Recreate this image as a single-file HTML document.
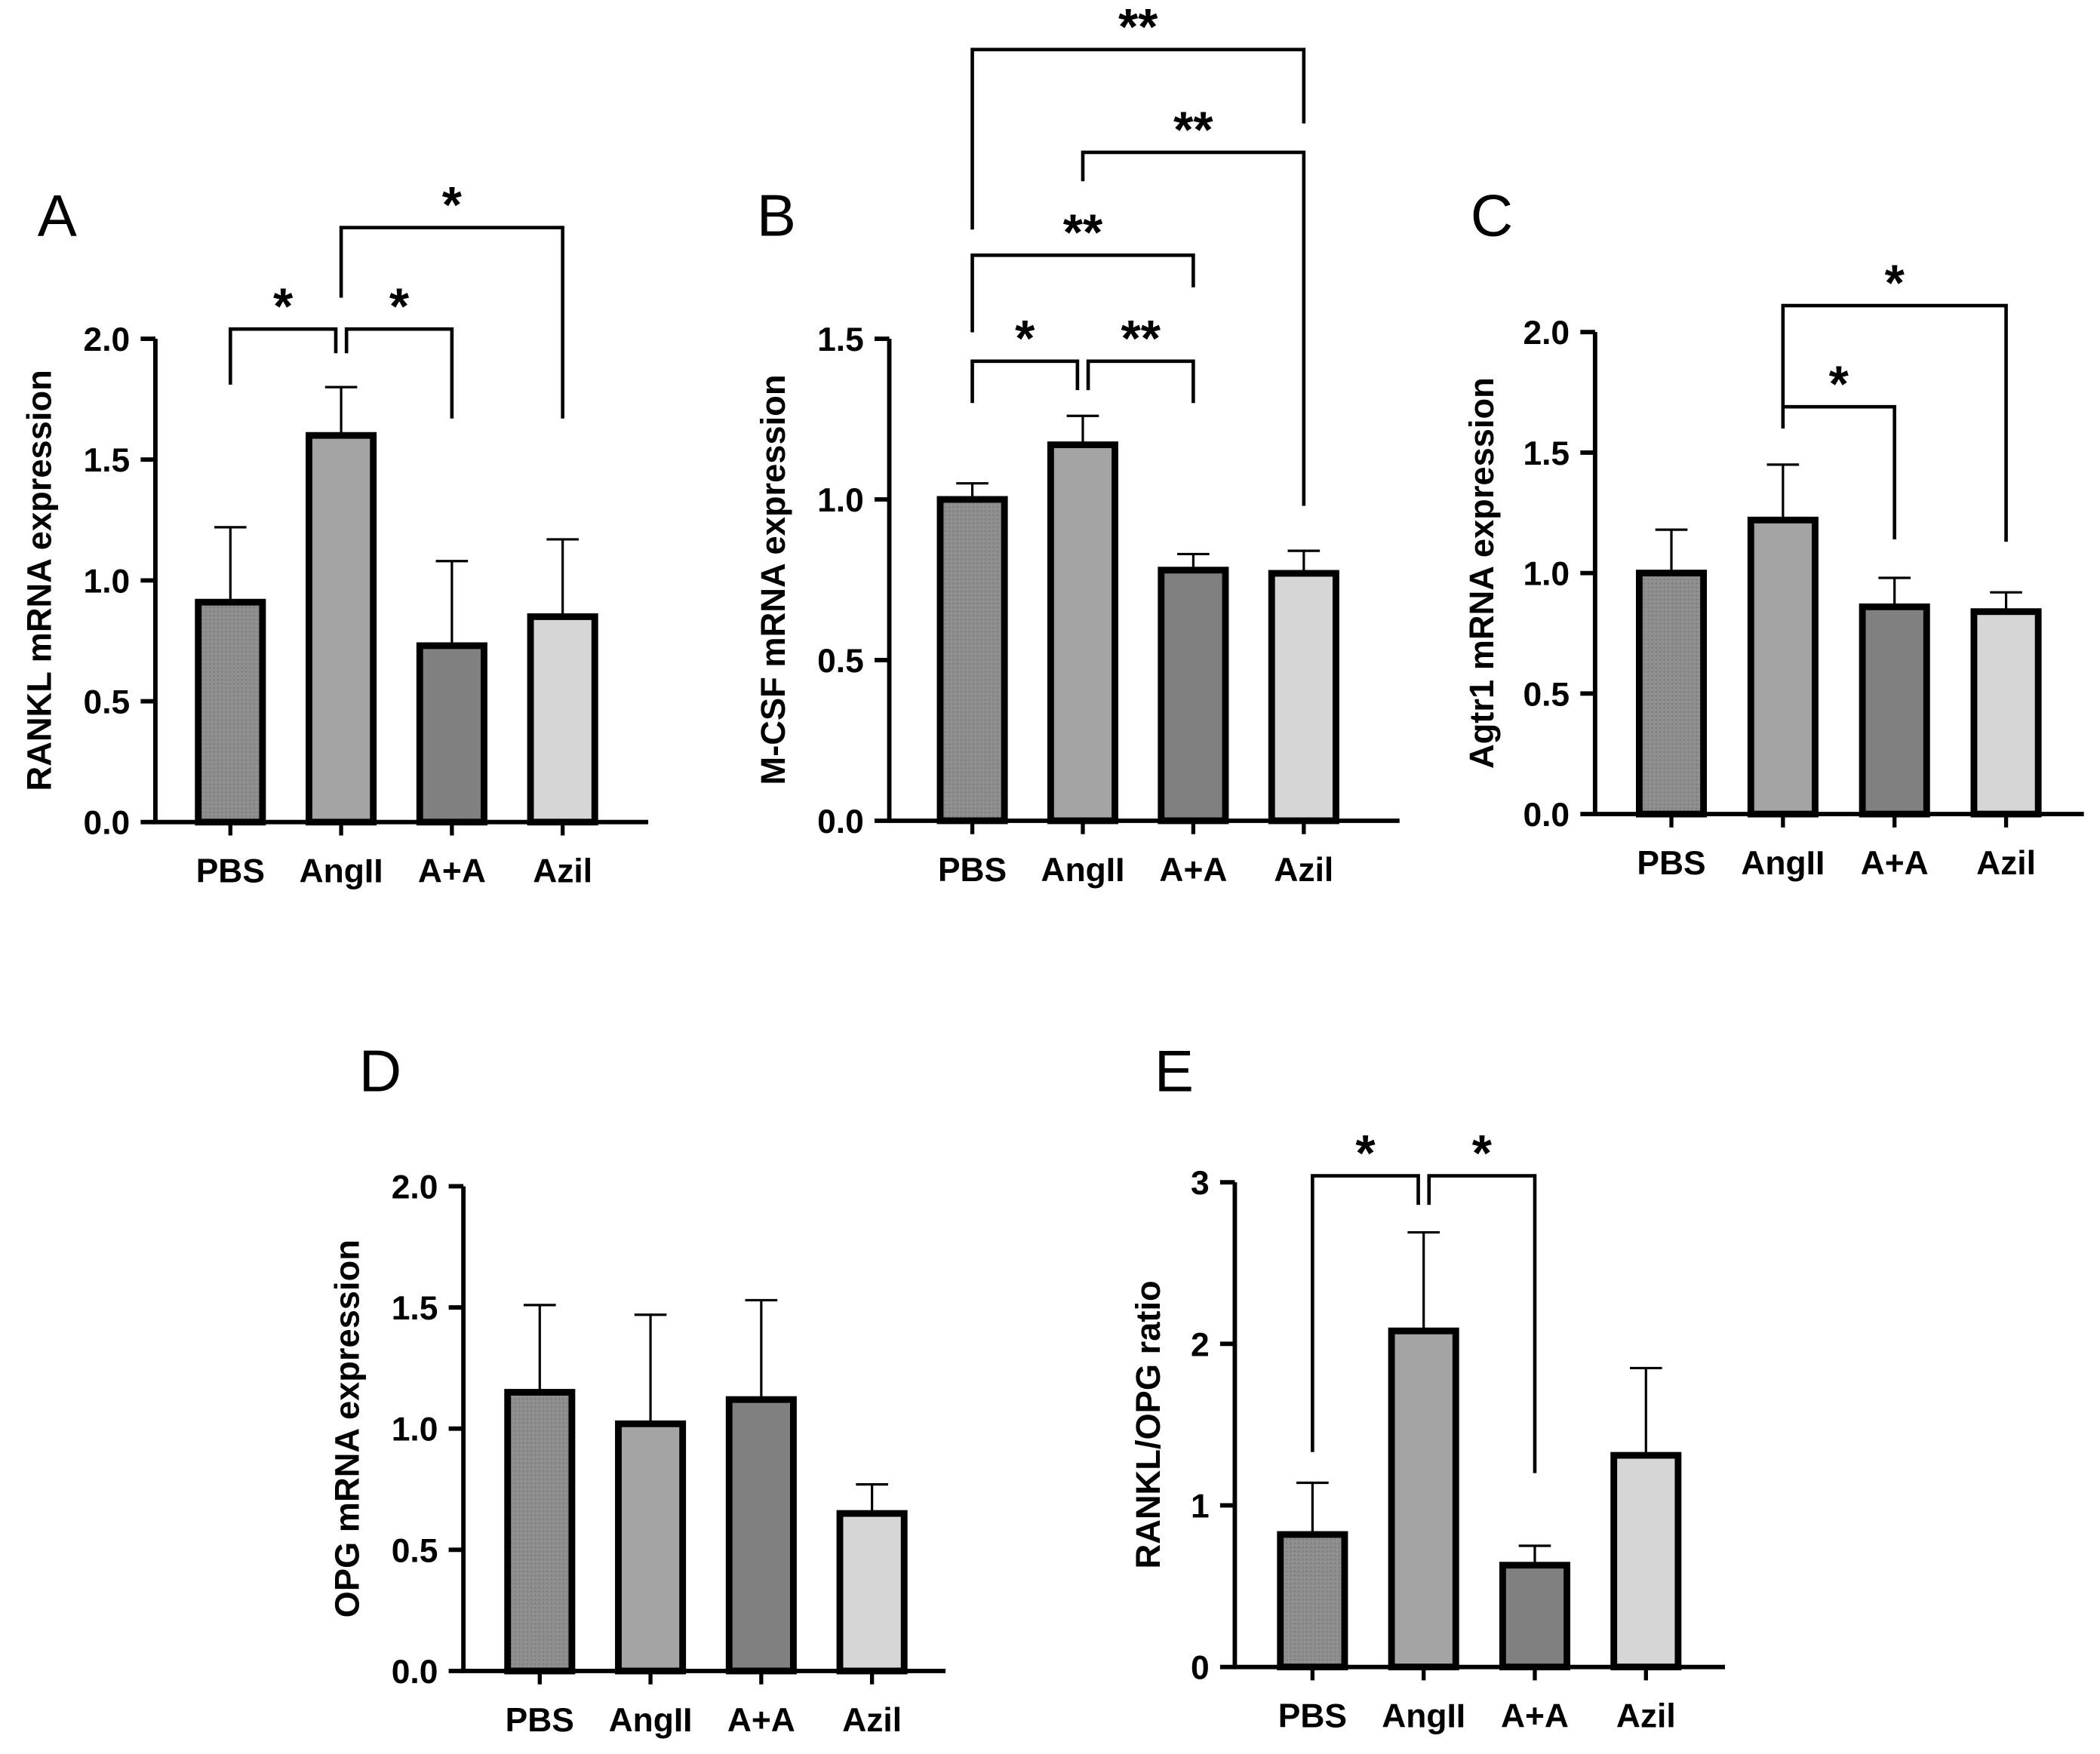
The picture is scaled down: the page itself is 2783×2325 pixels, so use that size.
<!DOCTYPE html>
<html><head><meta charset="utf-8"><style>
html,body{margin:0;padding:0;background:#fff}
svg{display:block}
text{font-family:"Liberation Sans",Arial,sans-serif}
</style></head><body>
<svg id="fig" xmlns="http://www.w3.org/2000/svg" width="2783" height="2325" viewBox="0 0 1568 1310">
<defs>
<pattern id="dots" width="3" height="3" patternUnits="userSpaceOnUse">
<rect width="3" height="3" fill="#909090"/><rect width="1.5" height="1.5" fill="#808080"/>
</pattern>
</defs>
</svg>
<script>
const cats = ["PBS","AngII","A+A","Azil"];
// Panel A
const valsA = [0.91, 1.60, 0.73, 0.85];
const errsA = [1.22, 1.80, 1.08, 1.17];
const ticksA = ["0.0","0.5","1.0","1.5","2.0"];
const brA = [[0,1,2.04,1.81,1.94,"*"],[1,2,2.04,1.94,1.67,"*"],[1,3,2.46,2.17,1.67,"*"]];
// Panel B
const valsB = [1.00, 1.17, 0.78, 0.77];
const errsB = [1.05, 1.26, 0.83, 0.84];
const ticksB = ["0.0","0.5","1.0","1.5"];
const brB = [[0,1,1.43,1.30,1.34,"*"],[1,2,1.43,1.34,1.30,"**"],[0,2,1.76,1.52,1.66,"**"],[1,3,2.08,1.99,0.98,"**"],[0,3,2.40,1.84,2.17,"**"]];
// Panel C
const valsC = [1.00, 1.22, 0.86, 0.84];
const errsC = [1.18, 1.45, 0.98, 0.92];
const ticksC = ["0.0","0.5","1.0","1.5","2.0"];
const brC = [[1,2,1.69,1.60,1.14,"*"],[1,3,2.11,1.69,1.13,"*"]];
// Panel D
const valsD = [1.15, 1.02, 1.12, 0.65];
const errsD = [1.51, 1.47, 1.53, 0.77];
const ticksD = ["0.0","0.5","1.0","1.5","2.0"];
const brD = [];
// Panel E
const valsE = [0.82, 2.08, 0.63, 1.31];
const errsE = [1.14, 2.69, 0.75, 1.85];
const ticksE = ["0","1","2","3"];
const brE = [[0,1,3.04,1.33,2.86,"*"],[1,2,3.04,2.86,1.20,"*"]];

const fills = ["url(#dots)","#a4a4a4","#808080","#d6d6d6"];
const NS = "http://www.w3.org/2000/svg";
const svg = document.getElementById("fig");
function mk(tag, attrs, parent, txt){
  const e = document.createElementNS(NS, tag);
  for (const k in attrs) e.setAttribute(k, attrs[k]);
  if (txt !== undefined) e.textContent = txt;
  (parent||svg).appendChild(e);
  return e;
}
function panel(cfg){
  const g = mk("g", {});
  
  
  const tmax = parseFloat(cfg.ticks[cfg.ticks.length-1]);
  const y = v => cfg.y0 - (v / tmax) * (cfg.y0 - cfg.yTop);
  const x = i => cfg.x0 + cfg.first + i * cfg.step;
  const L = mk("text", {x: cfg.lx, y: cfg.ly, "font-size": 44, fill: "#000"}, g, cfg.letter);
  
  
  const ymid = (cfg.y0 + cfg.yTop) / 2;
  const yl = mk("text", {x: cfg.ylx, y: ymid, "font-size": 25.5, "font-weight": "bold", "text-anchor": "middle", transform: `rotate(-90 ${cfg.ylx} ${ymid})`}, g, cfg.ylabel);
  
  
  cats.forEach((c, i) => {
    const cx = x(i), w = 48;
    const eb = mk("path", {d: `M${cx} ${y(cfg.vals[i])} V${y(cfg.errs[i])} M${cx-12} ${y(cfg.errs[i])} H${cx+12}`, stroke: "#000", "stroke-width": 1.8, fill: "none"}, g);
    
    
    const r = mk("rect", {x: cx - w/2, y: y(cfg.vals[i]), width: w, height: cfg.y0 - y(cfg.vals[i]), fill: fills[i], stroke: "#000", "stroke-width": 5}, g);
    
    
    const tk = mk("line", {x1: cx, x2: cx, y1: cfg.y0, y2: cfg.y0 + 10, stroke: "#000", "stroke-width": 3}, g);
    
    
    const t = mk("text", {x: cx, y: cfg.y0 + 45, "font-size": 25, "font-weight": "bold", "text-anchor": "middle"}, g, c);
    
    
  });
  const ax = mk("path", {d: `M${cfg.x0} ${cfg.yTop} V${cfg.y0} H${cfg.xEnd}`, stroke: "#000", "stroke-width": 3.3, fill: "none"}, g);
  
  
  cfg.ticks.forEach(tl => {
    const v = parseFloat(tl), ty = y(v);
    const tk = mk("line", {x1: cfg.x0 - 11, x2: cfg.x0, y1: ty, y2: ty, stroke: "#000", "stroke-width": 3.3}, g);
    
    
    const t = mk("text", {x: cfg.x0 - 19, y: ty + 9, "font-size": 25, "font-weight": "bold", "text-anchor": "end"}, g, tl);
    
    
  });
  cfg.br.forEach(b => {
    const [i, j, lv, li, lj, s] = b;
    let xi = x(i), xj = x(j);
    if (cfg.br.some(o => o !== b && o[2] === lv && o[0] === j)) xj -= 4;
    if (cfg.br.some(o => o !== b && o[2] === lv && o[1] === i)) xi += 4;
    const p = mk("path", {d: `M${xi} ${y(li)} V${y(lv)} H${xj} V${y(lj)}`, stroke: "#000", "stroke-width": 2.6, fill: "none"}, g);
    
    
    const t = mk("text", {x: (xi + xj) / 2, y: y(lv) - 4, "font-size": 38, "font-weight": "bold", "text-anchor": "middle"}, g, s);
    
    
  });
}
panel({letter:"A", lx:28, ly:176, ylabel:"RANKL mRNA expression", ylx:38, x0:116, y0:614, yTop:253, xEnd:484, first:56, step:82.7, vals:valsA, errs:errsA, ticks:ticksA, br:brA});
panel({letter:"B", lx:565, ly:176, ylabel:"M-CSF mRNA expression", ylx:586, x0:664, y0:613, yTop:253, xEnd:1045, first:62, step:82.5, vals:valsB, errs:errsB, ticks:ticksB, br:brB});
panel({letter:"C", lx:1098, ly:176, ylabel:"Agtr1 mRNA expression", ylx:1115, x0:1191, y0:608, yTop:248, xEnd:1556, first:57, step:83.3, vals:valsC, errs:errsC, ticks:ticksC, br:brC});
panel({letter:"D", lx:268, ly:815, ylabel:"OPG mRNA expression", ylx:268, x0:346, y0:1248, yTop:886, xEnd:706, first:57, step:82.7, vals:valsD, errs:errsD, ticks:ticksD, br:brD});
panel({letter:"E", lx:862, ly:815, ylabel:"RANKL/OPG ratio", ylx:866, x0:922, y0:1245, yTop:883, xEnd:1288, first:58, step:83, vals:valsE, errs:errsE, ticks:ticksE, br:brE});
</script>
</body></html>
